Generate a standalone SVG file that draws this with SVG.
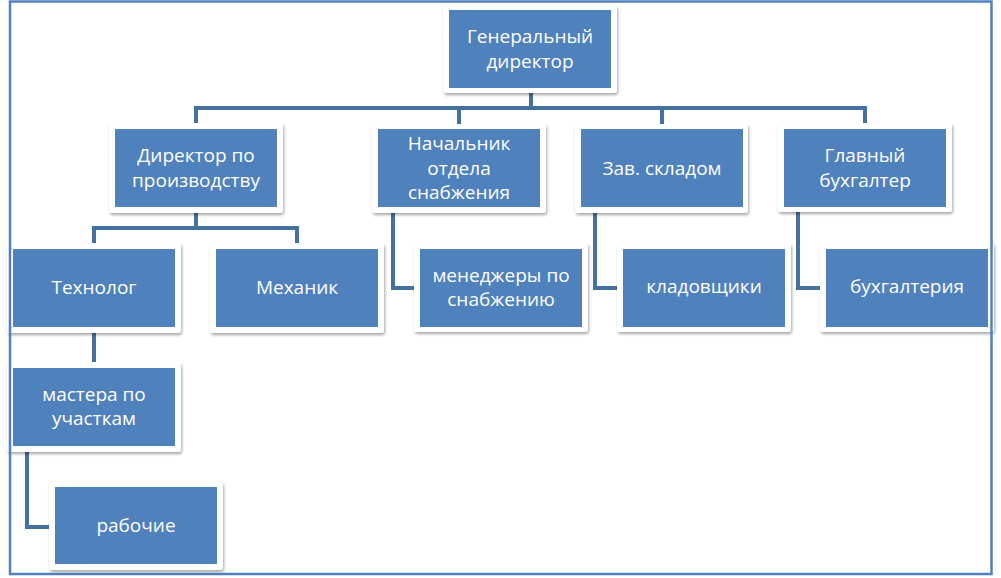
<svg xmlns="http://www.w3.org/2000/svg" width="1001" height="578" viewBox="0 0 1001 578">
<defs>
<filter id="sh" x="-10%" y="-10%" width="130%" height="140%">
<feDropShadow dx="1" dy="2" stdDeviation="1.8" flood-color="#000" flood-opacity="0.35"/>
</filter>
<style>
.outer{fill:#fff;filter:url(#sh)}
.inner{fill:#4F81BD}
.t{font-family:"Open Sans","Noto Sans","Liberation Sans",sans-serif;font-size:19px;fill:#fff;text-anchor:middle}
.c{fill:none;stroke:#44719F;stroke-width:4}
.frame{fill:none;stroke:#4F81BD;stroke-width:2.5}
</style>
</defs>
<rect width="1001" height="578" fill="#fff"/>
<g id="connectors">
<path class="c" d="M531 93 V108 H196 V123"/>
<path class="c" d="M531 108 H865 V123"/>
<path class="c" d="M459 108 V124"/>
<path class="c" d="M662 108 V124"/>
<path class="c" d="M196 213 V228 H94 V243"/>
<path class="c" d="M196 228 H297 V243"/>
<path class="c" d="M94 333 V362"/>
<path class="c" d="M27 452 V527 H49"/>
<path class="c" d="M393 213 V288 H414"/>
<path class="c" d="M595 213 V288 H617"/>
<path class="c" d="M798 212 V288 H820"/>
</g>
<g id="gen">
<rect class="outer" x="443" y="5" width="174" height="88" rx="3"/>
<rect class="inner" x="449" y="10" width="162" height="78"/>
<text class="t" x="530" y="43">Генеральный</text>
<text class="t" x="530" y="68">директор</text>
</g>
<g id="dirprod">
<rect class="outer" x="109" y="123" width="174" height="90" rx="3"/>
<rect class="inner" x="115" y="129" width="162" height="78"/>
<text class="t" x="196" y="162">Директор по</text>
<text class="t" x="196" y="187">производству</text>
</g>
<g id="nachsnab">
<rect class="outer" x="372" y="124" width="174" height="89" rx="3"/>
<rect class="inner" x="378" y="129" width="162" height="78"/>
<text class="t" x="459" y="150">Начальник</text>
<text class="t" x="459" y="175">отдела</text>
<text class="t" x="459" y="199">снабжения</text>
</g>
<g id="zavsklad">
<rect class="outer" x="575" y="124" width="173" height="89" rx="3"/>
<rect class="inner" x="581" y="129" width="162" height="78"/>
<text class="t" x="662" y="175">Зав. складом</text>
</g>
<g id="glavbuh">
<rect class="outer" x="778" y="123" width="174" height="89" rx="3"/>
<rect class="inner" x="784" y="129" width="162" height="78"/>
<text class="t" x="865" y="162">Главный</text>
<text class="t" x="865" y="187">бухгалтер</text>
</g>
<g id="tehnolog">
<rect class="outer" x="7" y="243" width="174" height="90" rx="3"/>
<rect class="inner" x="13" y="249" width="162" height="78"/>
<text class="t" x="94" y="294">Технолог</text>
</g>
<g id="mehanik">
<rect class="outer" x="210" y="243" width="174" height="90" rx="3"/>
<rect class="inner" x="216" y="249" width="162" height="78"/>
<text class="t" x="297" y="294">Механик</text>
</g>
<g id="menedzhery">
<rect class="outer" x="414" y="243" width="174" height="89" rx="3"/>
<rect class="inner" x="420" y="249" width="162" height="78"/>
<text class="t" x="501" y="282">менеджеры по</text>
<text class="t" x="501" y="306">снабжению</text>
</g>
<g id="kladovshiki">
<rect class="outer" x="617" y="243" width="174" height="89" rx="3"/>
<rect class="inner" x="623" y="249" width="162" height="78"/>
<text class="t" x="704" y="293">кладовщики</text>
</g>
<g id="buhgalteriya">
<rect class="outer" x="820" y="243" width="174" height="89" rx="3"/>
<rect class="inner" x="826" y="249" width="162" height="78"/>
<text class="t" x="907" y="293">бухгалтерия</text>
</g>
<g id="mastera">
<rect class="outer" x="7" y="362" width="174" height="90" rx="3"/>
<rect class="inner" x="13" y="368" width="162" height="78"/>
<text class="t" x="94" y="401">мастера по</text>
<text class="t" x="94" y="425">участкам</text>
</g>
<g id="rabochie">
<rect class="outer" x="49" y="482" width="174" height="88" rx="3"/>
<rect class="inner" x="55" y="487" width="162" height="77"/>
<text class="t" x="136" y="532">рабочие</text>
</g>
<rect class="frame" x="10" y="1.5" width="981.5" height="572.5"/>
</svg>
